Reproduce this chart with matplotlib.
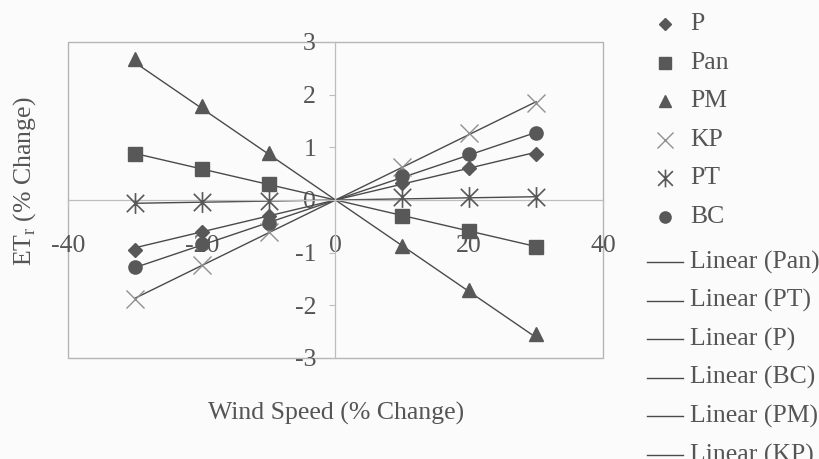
import numpy as np
import matplotlib
matplotlib.use("Agg")
import matplotlib.pyplot as plt
from matplotlib.lines import Line2D
from matplotlib.patches import Rectangle
from matplotlib.path import Path

# data (% change in wind speed -> % change in ETr)
wind = [-30, -20, -10, 10, 20, 30]
p_vals = [-0.94, -0.60, -0.31, 0.33, 0.60, 0.87]
pan_vals = [0.87, 0.59, 0.30, -0.30, -0.58, -0.90]
pm_vals = [2.67, 1.78, 0.89, -0.87, -1.71, -2.54]
kp_vals = [-1.88, -1.23, -0.60, 0.63, 1.27, 1.85]
pt_vals = [-0.05, -0.03, -0.02, 0.05, 0.06, 0.06]
bc_vals = [-1.28, -0.84, -0.43, 0.45, 0.87, 1.28]

series_names = ["P", "Pan", "PM", "KP", "PT", "BC"]
trend_order = ["Pan", "PT", "P", "BC", "PM", "KP"]
x_ticks = [-40, -20, 0, 20, 40]
y_ticks = [-3, -2, -1, 0, 1, 2, 3]

# asterisk like excel's star marker: an X with a vertical bar
star = Path([(-1, -1), (1, 1), (-1, 1), (1, -1), (0, -1.2), (0, 1.2)],
            [Path.MOVETO, Path.LINETO, Path.MOVETO, Path.LINETO, Path.MOVETO, Path.LINETO])

dark = "#585858"
styles = {
    "P": dict(marker="D", ms=7.5, color=dark),
    "Pan": dict(marker="s", ms=9.5, color=dark),
    "PM": dict(marker="^", ms=10.5, color=dark),
    "KP": dict(marker="x", ms=13, color="#909090", mew=1.0),
    "PT": dict(marker=star, ms=15, color=dark, mew=1.2),
    "BC": dict(marker="o", ms=9.5, color=dark),
}
values = {"P": p_vals, "Pan": pan_vals, "PM": pm_vals,
          "KP": kp_vals, "PT": pt_vals, "BC": bc_vals}

plt.rcParams["font.family"] = ["Liberation Serif", "DejaVu Serif"]
plt.rcParams["axes.unicode_minus"] = False
txt_col = "#555555"
fs = 18.5

fig = plt.figure(figsize=(8.2, 4.59), dpi=100, facecolor="#fbfbfb")
ax = fig.add_axes([68 / 820, 1 - 358 / 459, 535 / 820, 316 / 459])
ax.set_facecolor("#fbfbfb")

x = np.array(wind, dtype=float)
# linear trendlines (through origin)
for name in series_names:
    y = np.array(values[name])
    slope = np.sum(x * y) / np.sum(x * x)
    xs = np.array([x.min(), x.max()])
    ax.plot(xs, slope * xs, color="#4a4a4a", lw=1.0, zorder=2)

for name in series_names:
    st = styles[name]
    ax.plot(wind, values[name], linestyle="none", marker=st["marker"],
            ms=st["ms"], color=st["color"], mec=st["color"],
            mew=st.get("mew", 1.0), zorder=3)

ax.set_xlim(-40, 40)
ax.set_ylim(-3, 3)
ax.set_xticks(x_ticks)
ax.set_yticks(y_ticks)
for s in ["top", "right"]:
    ax.spines[s].set_visible(False)
for s in ["left", "bottom"]:
    ax.spines[s].set_position(("data", 0))
    ax.spines[s].set_color("#bdbdbd")
    ax.spines[s].set_linewidth(0.9)
ax.add_patch(Rectangle((0, 0), 1, 1, transform=ax.transAxes, fill=False,
                       ec="#b5b5b5", lw=1.0, clip_on=False, zorder=1))
ax.tick_params(axis="x", direction="out", length=4, color="#bdbdbd",
               labelsize=fs, labelcolor=txt_col, pad=21)
ax.tick_params(axis="y", direction="out", length=4, color="#bdbdbd",
               labelsize=fs, labelcolor=txt_col, pad=10)

fig.text(336 / 820, 1 - 413 / 459, "Wind Speed (% Change)", ha="center",
         va="center", fontsize=fs, color=txt_col)
fig.text(25 / 820, 1 - 181 / 459, r"ET$_{\mathregular{r}}$ (% Change)",
         rotation=90, ha="center", va="center", fontsize=fs, color=txt_col)

# legend drawn by hand to match the original spacing
row = 38.6
for i, name in enumerate(series_names):
    yy = 1 - (24 + i * row) / 459
    st = styles[name]
    fig.add_artist(Line2D([665 / 820], [yy], marker=st["marker"],
                          ms=st["ms"] * 0.85, color=st["color"],
                          mec=st["color"], mew=st.get("mew", 1.0),
                          linestyle="none"))
    fig.text(690 / 820, yy, name, ha="left", va="center",
             fontsize=fs, color=txt_col)
for i, name in enumerate(trend_order):
    yy = 1 - (262 + i * row) / 459
    fig.add_artist(Line2D([647 / 820, 683 / 820], [yy, yy],
                          color="#4a4a4a", lw=1.0))
    fig.text(690 / 820, yy, "Linear (%s)" % name, ha="left", va="center",
             fontsize=fs, color=txt_col)

fig.savefig("out.png", dpi=100, facecolor=fig.get_facecolor())
